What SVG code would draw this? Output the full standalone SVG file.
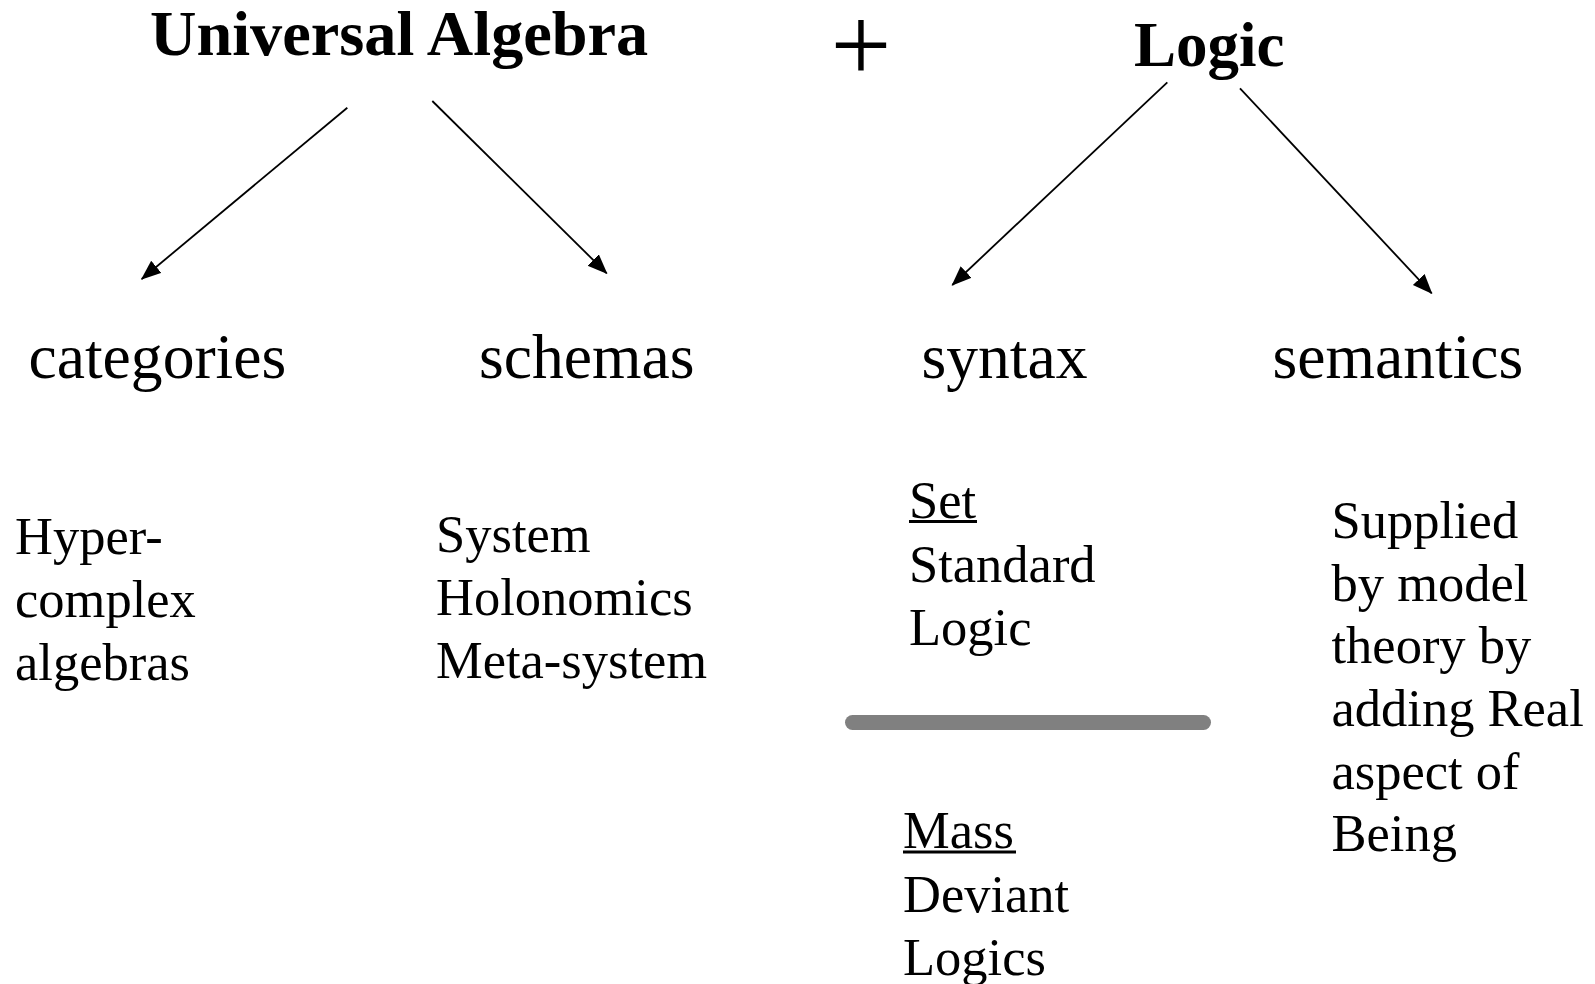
<svg xmlns="http://www.w3.org/2000/svg" width="1595" height="984" viewBox="0 0 1595 984">
  <style>
    text { font-family: "Liberation Serif", "Times New Roman", serif; fill: #000; }
    .title { font-size: 64.3px; font-weight: bold; }
    .title2 { font-size: 63px; font-weight: bold; }
    .head { font-size: 63.6px; }
    .body { font-size: 52.5px; }
    .plus { font-size: 108px; }
    .conn { stroke: #000; stroke-width: 1.8; fill: none; marker-end: url(#arrow); }
    .ul { stroke: #000; stroke-width: 3; }
  </style>
  <defs>
    <marker id="arrow" markerUnits="userSpaceOnUse" markerWidth="22" markerHeight="18" refX="19" refY="8" orient="auto">
      <path d="M0,0 L20,8 L0,16 z" fill="#000"/>
    </marker>
  </defs>
  <rect width="1595" height="984" fill="#fff"/>

  <g id="universal-algebra"><text class="title" x="150" y="55">Universal Algebra</text></g>
  <g id="plus"><text class="plus" x="861" y="81" text-anchor="middle">+</text></g>
  <g id="logic"><text class="title2" x="1134" y="66">Logic</text></g>

  <g id="categories"><text class="head" x="28.5" y="378">categories</text></g>
  <g id="schemas"><text class="head" x="479" y="378">schemas</text></g>
  <g id="syntax"><text class="head" x="921.5" y="378">syntax</text></g>
  <g id="semantics"><text class="head" x="1272.5" y="378">semantics</text></g>

  <g id="hypercomplex">
    <text class="body" x="15" y="554">Hyper-</text>
    <text class="body" x="15" y="617">complex</text>
    <text class="body" x="15" y="680">algebras</text>
  </g>
  <g id="system">
    <text class="body" x="436" y="552">System</text>
    <text class="body" x="436" y="615">Holonomics</text>
    <text class="body" x="436" y="678">Meta-system</text>
  </g>
  <g id="set-standard-logic">
    <text class="body" x="909" y="517.5">Set</text>
    <line class="ul" x1="909" y1="521.5" x2="977" y2="521.5"/>
    <text class="body" x="909" y="582">Standard</text>
    <text class="body" x="909" y="644.5">Logic</text>
  </g>
  <g id="divider">
    <line x1="852.5" y1="722.5" x2="1203.5" y2="722.5" stroke="#808080" stroke-width="15" stroke-linecap="round"/>
  </g>
  <g id="mass-deviant-logics">
    <text class="body" x="903" y="848">Mass</text>
    <line class="ul" x1="903" y1="852" x2="1016" y2="852"/>
    <text class="body" x="903" y="912">Deviant</text>
    <text class="body" x="903" y="975">Logics</text>
  </g>
  <g id="semantics-text">
    <text class="body" x="1331.5" y="538">Supplied</text>
    <text class="body" x="1331.5" y="600.5">by model</text>
    <text class="body" x="1331.5" y="663">theory by</text>
    <text class="body" x="1331.5" y="726">adding Real</text>
    <text class="body" x="1331.5" y="788.5">aspect of</text>
    <text class="body" x="1331.5" y="851">Being</text>
  </g>

  <g id="connectors">
    <line class="conn" x1="347.3" y1="107.7" x2="141.7" y2="279"/>
    <line class="conn" x1="432.3" y1="101" x2="606.7" y2="273.3"/>
    <line class="conn" x1="1167.3" y1="82.3" x2="952.3" y2="285"/>
    <line class="conn" x1="1240" y1="88.3" x2="1431.7" y2="293.3"/>
  </g>
</svg>
